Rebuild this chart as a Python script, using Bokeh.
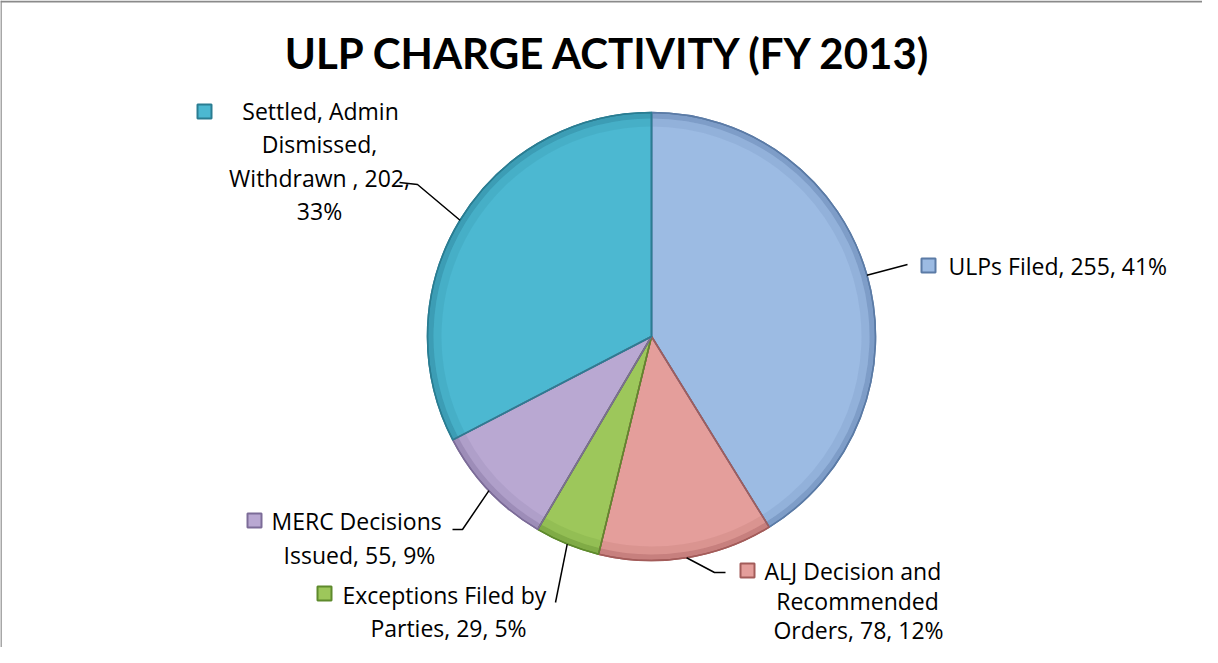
import math
from bokeh.plotting import figure
from bokeh.models import Range1d, Span
from bokeh.core.properties import value
from bokeh.embed import file_html
from bokeh.resources import INLINE

# ---- data ----
categories = ["ULPs Filed", "ALJ Decision and Recommended Orders",
              "Exceptions Filed by Parties", "MERC Decisions Issued",
              "Settled, Admin Dismissed, Withdrawn "]
counts = [255, 78, 29, 55, 202]
percents = [41, 12, 5, 9, 33]
label_lines = [
    ["ULPs Filed, 255, 41%"],
    ["ALJ Decision and", "Recommended", "Orders, 78, 12%"],
    ["Exceptions Filed by", "Parties, 29, 5%"],
    ["MERC Decisions", "Issued, 55, 9%"],
    ["Settled, Admin", "Dismissed,", "Withdrawn , 202,", "33%"],
]
title = "ULP CHARGE ACTIVITY (FY 2013)"

base_colors = ["#9CBBE3", "#E49E9B", "#9DC75B", "#B9A8D2", "#4CB8D1"]
dark_colors = ["#5B7BA6", "#A35C5A", "#5E8A2C", "#7C6C98", "#2A7D92"]

W, H = 1202, 647
def Y(py):  # page pixel y -> data y
    return 663 - py

p = figure(width=W, height=H, output_backend="svg", toolbar_location=None,
           x_range=Range1d(8, 1210), y_range=Range1d(8, 655),
           min_border=0)
p.axis.visible = False
p.grid.visible = False
p.outline_line_color = None
p.background_fill_color = "white"

p.add_layout(Span(location=Y(9), dimension="width", line_color="#8a8a8a", line_width=2))
p.add_layout(Span(location=8.5, dimension="height", line_color="#8a8a8a", line_width=1.5))

cx, cy, r = 659, Y(344), 224
total = sum(counts)
starts, ends, mids = [], [], []
acc = 0
for c in counts:
    a0 = math.pi / 2 - 2 * math.pi * acc / total
    acc += c
    a1 = math.pi / 2 - 2 * math.pi * acc / total
    starts.append(a0); ends.append(a1); mids.append((a0 + a1) / 2)

src = dict(x=[cx] * 5, y=[cy] * 5, s=starts, e=ends, fc=base_colors, lc=dark_colors)
p.wedge(x="x", y="y", radius=r, start_angle="s", end_angle="e", direction="clock",
        fill_color="fc", line_color="lc", line_width=1.5, source=src)
# bevel: darker outer band, soft inner shading
p.annular_wedge(x="x", y="y", inner_radius=r - 6, outer_radius=r, start_angle="s", end_angle="e",
                direction="clock", fill_color="lc", fill_alpha=0.45, line_color=None, source=src)
p.annular_wedge(x="x", y="y", inner_radius=r - 14, outer_radius=r - 6, start_angle="s", end_angle="e",
                direction="clock", fill_color="lc", fill_alpha=0.15, line_color=None, source=src)
p.wedge(x="x", y="y", radius=r, start_angle="s", end_angle="e", direction="clock",
        fill_color=None, line_color="lc", line_width=1.5, source=src)

# title
p.text(x=[617], y=[Y(60)], text=[title], text_font=value("Lato"), text_font_style="bold",
       text_font_size="42px", text_align="center", text_baseline="middle", text_color="black")

# label layout (page px): key position, lines (x, y, align)
key_pos = [(936, 273), (755, 578), (332, 601), (262, 528), (212, 119)]
line_pos = [
    [(956, 273, "left")],
    [(772, 578, "left"), (865, 608, "center"), (866, 637, "center")],
    [(350, 602, "left"), (456, 635, "center")],
    [(279, 528, "left"), (367, 562, "center")],
    [(328, 118, "center"), (327, 151, "center"), (327, 185, "center"), (327, 218, "center")],
]
elbows = [
    [(915, 272)],
    [(722, 580), (733, 580)],
    [(563, 610)],
    [(470, 537), (460, 537)],
    [(425, 192), (407, 190)],
]

for i in range(5):
    kx, ky = key_pos[i]
    p.scatter([kx], [Y(ky)], marker="square", size=14, fill_color=base_colors[i],
              line_color=dark_colors[i], line_width=2)
    for txt, (lx, ly, al) in zip(label_lines[i], line_pos[i]):
        p.text(x=[lx], y=[Y(ly)], text=[txt], text_font=value("Open Sans"), text_font_size="23px",
               text_align=al, text_baseline="middle", text_color="black")
    ex = cx + r * math.cos(mids[i])
    ey = cy + r * math.sin(mids[i])
    xs = [ex] + [e[0] for e in elbows[i]]
    ys = [ey] + [Y(e[1]) for e in elbows[i]]
    p.line(xs, ys, line_color="black", line_width=1.5)

open("out.html", "w").write(file_html(p, INLINE))
